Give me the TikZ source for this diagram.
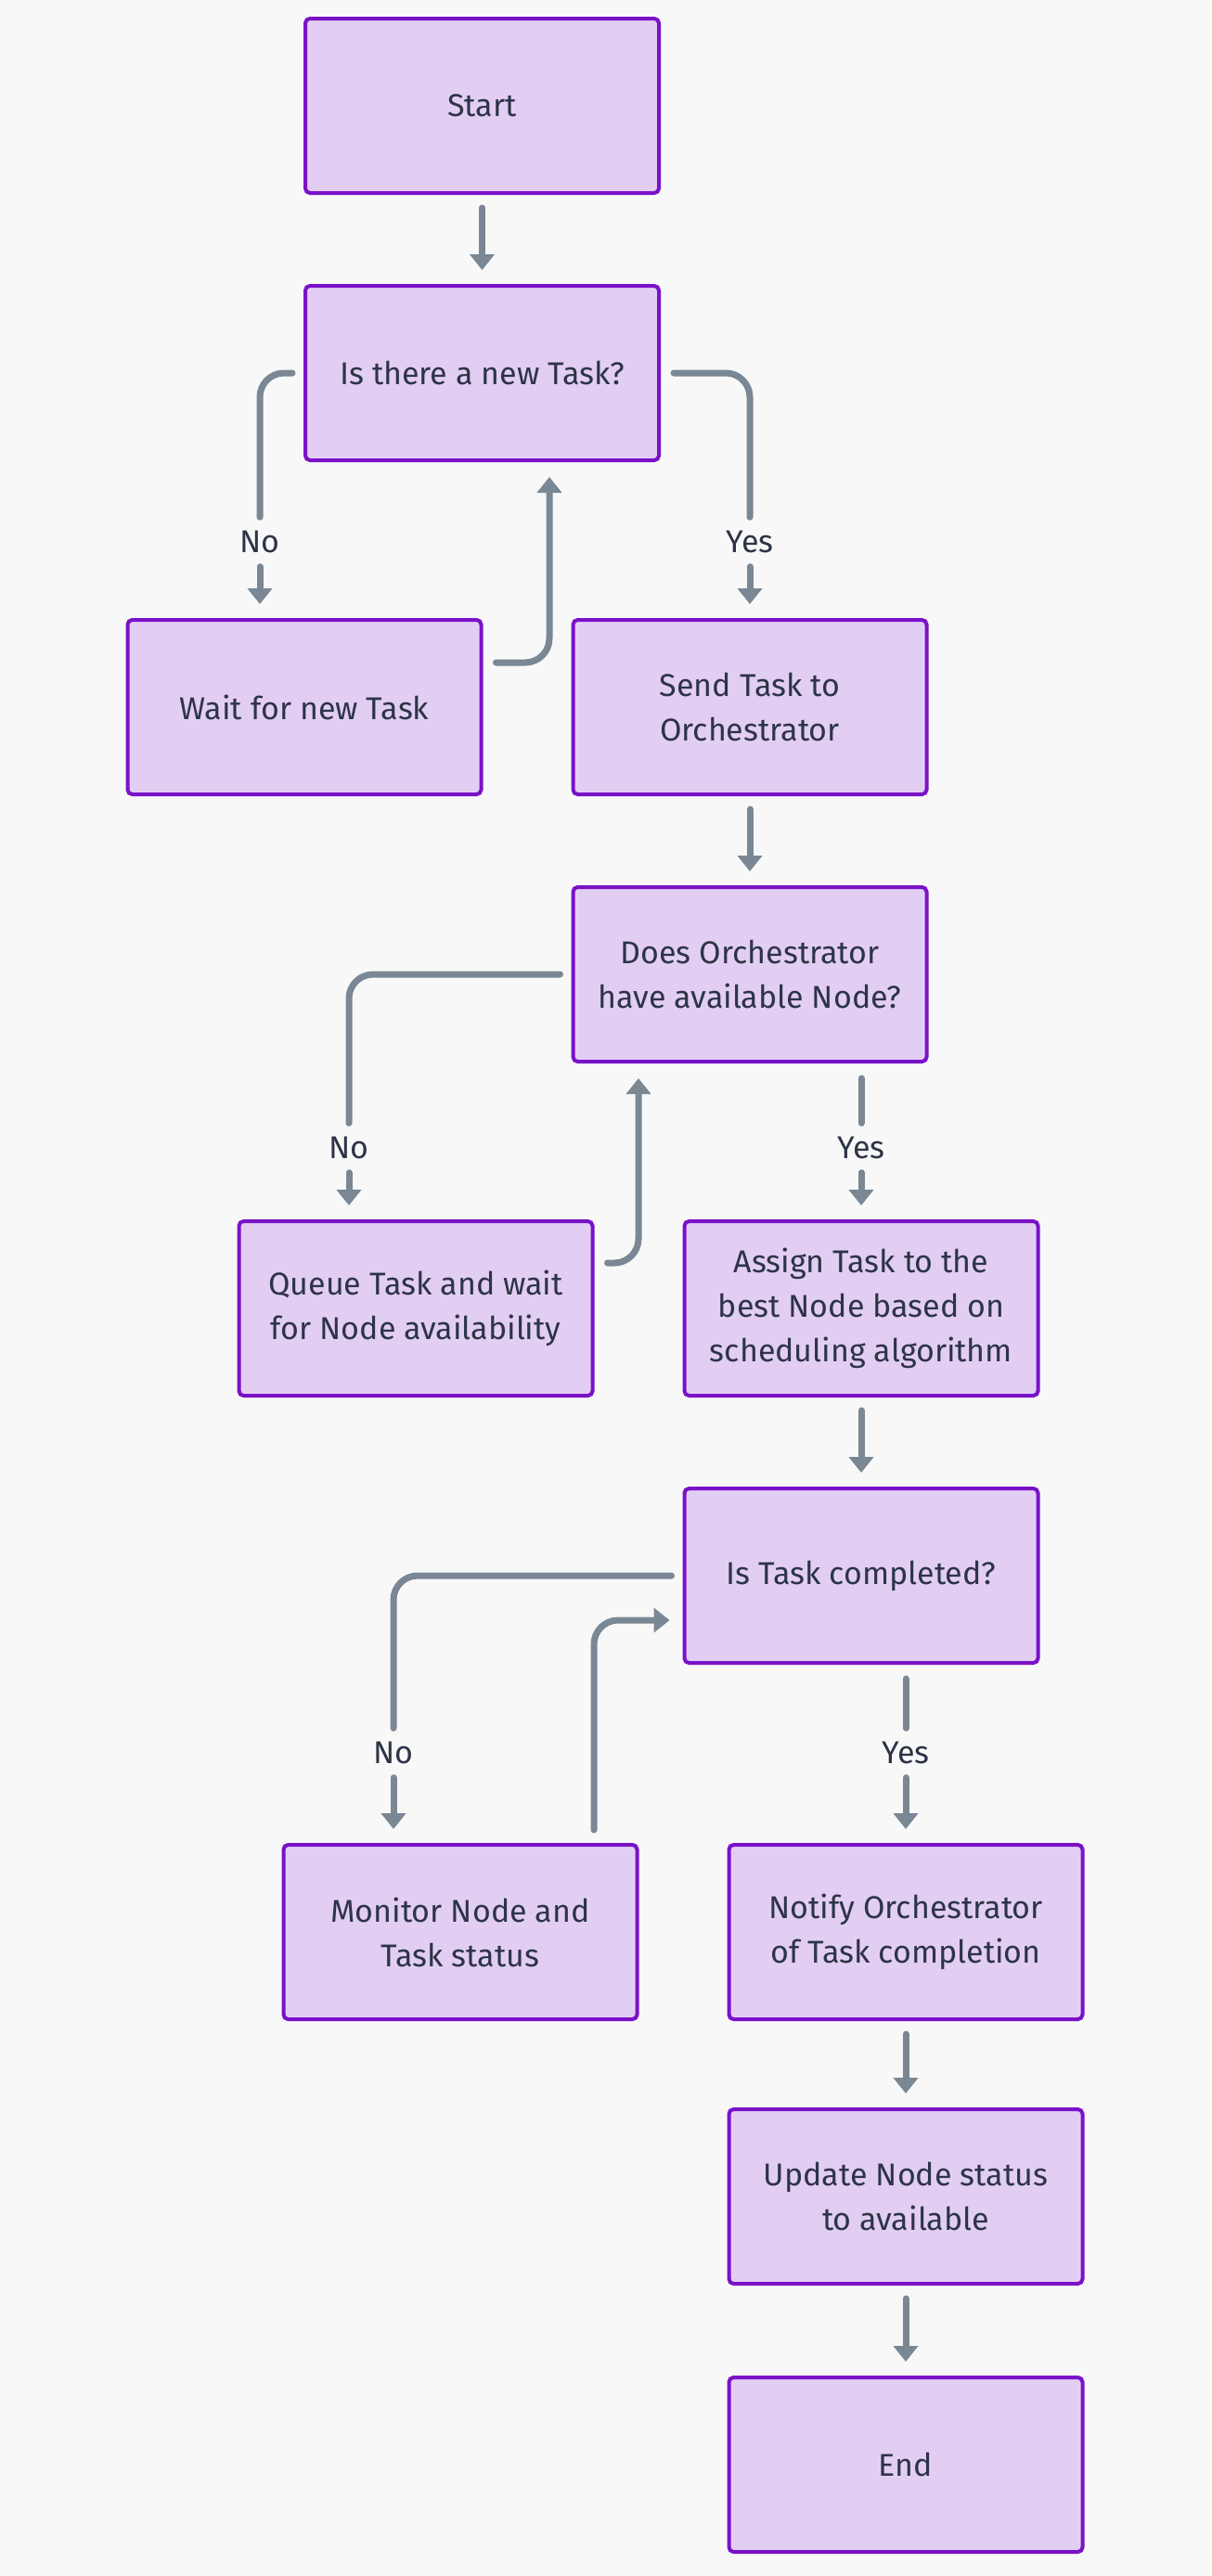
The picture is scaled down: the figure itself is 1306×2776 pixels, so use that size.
\documentclass[tikz,border=0pt]{standalone}
\usepackage{fontspec}
\setmainfont{Fira Sans}
\usetikzlibrary{arrows.meta,calc}
\definecolor{bg}{HTML}{F8F8F8}
\definecolor{boxfill}{HTML}{E3CEF3}
\definecolor{boxborder}{HTML}{7A12C8}
\definecolor{arr}{HTML}{7A8794}
\definecolor{txt}{HTML}{2D3446}
\newcommand{\fs}{\fontsize{34pt}{48pt}\selectfont}
\tikzset{
  box/.style={draw=boxborder, fill=boxfill, line width=4pt, rounded corners=5pt,
    minimum width=381pt, minimum height=188pt, align=center, text=txt, font=\fs, inner sep=0pt},
  conn/.style={draw=arr, line width=7pt, line cap=round, rounded corners=26pt},
  tip/.style={-{Triangle[width=26pt,length=17pt]}, shorten >=15pt},
  lbl/.style={inner sep=0pt, minimum height=53pt, text=txt, font=\fs}
}
\begin{document}
\begin{tikzpicture}[x=1pt,y=-1pt]
\fill[bg] (0,0) rectangle (1306,2776);
\useasboundingbox (0,0) rectangle (1306,2776);

\node[box] (start)   at (519.5,114)  {Start};
\node[box] (q1)      at (519.5,402)  {Is there a new Task?};
\node[box] (wait)    at (328,762)    {Wait for new Task};
\node[box] (send)    at (808,762)    {Send Task to\\Orchestrator};
\node[box] (q2)      at (808,1050)   {Does Orchestrator\\have available Node?};
\node[box] (queue)   at (448,1410)   {Queue Task and wait\\for Node availability};
\node[box] (assign)  at (928,1410)   {Assign Task to the\\best Node based on\\scheduling algorithm};
\node[box] (q3)      at (928,1698)   {Is Task completed?};
\node[box] (monitor) at (496,2082)   {Monitor Node and\\Task status};
\node[box] (notify)  at (976,2082)   {Notify Orchestrator\\of Task completion};
\node[box] (update)  at (976,2367)   {Update Node status\\to available};
\node[box] (end)     at (976,2656)   {End};

\node[lbl] (no1)  at (280,584)  {No};
\node[lbl] (yes1) at (808,584)  {Yes};
\node[lbl] (no2)  at (376,1237) {No};
\node[lbl] (yes2) at (928,1237) {Yes};
\node[lbl] (no3)  at (424,1889) {No};
\node[lbl] (yes3) at (976,1889) {Yes};

% straight arrows
\draw[conn,tip] ($(start.south)+(0,14)$) -- (q1.north);
\draw[conn,tip] ($(send.south)+(0,14)$) -- (q2.north);
\draw[conn,tip] ($(assign.south)+(0,14)$) -- (q3.north);
\draw[conn,tip] ($(notify.south)+(0,14)$) -- (update.north);
\draw[conn,tip] ($(update.south)+(0,14)$) -- (end.north);

% decision 1
\draw[conn] ($(q1.west)+(-12,0)$) -| (no1.north);
\draw[conn,tip] (no1.south) -- (no1.south |- wait.north);
\draw[conn] ($(q1.east)+(14,0)$) -| (yes1.north);
\draw[conn,tip] (yes1.south) -- (yes1.south |- send.north);
\draw[conn,tip] ($(wait.east)+(14,-48)$) -| ($(q1.south)+(72.5,1)$);

% decision 2
\draw[conn] ($(q2.west)+(-12,0)$) -| (no2.north);
\draw[conn,tip] (no2.south) -- (no2.south |- queue.north);
\draw[conn] ($(yes2.north |- q2.south)+(0,16)$) -- (yes2.north);
\draw[conn,tip] (yes2.south) -- (yes2.south |- assign.north);
\draw[conn,tip] ($(queue.east)+(14,-49)$) -| ($(q2.south)+(-120,1)$);

% decision 3
\draw[conn] ($(q3.west)+(-12,0)$) -| (no3.north);
\draw[conn,tip] (no3.south) -- (no3.south |- monitor.north);
\draw[conn] ($(yes3.north |- q3.south)+(0,15)$) -- (yes3.north);
\draw[conn,tip] (yes3.south) -- (yes3.south |- notify.north);
\draw[conn,tip] ($(monitor.north)+(144,-14)$) |- ($(q3.west)+(1,48)$);
\end{tikzpicture}
\end{document}
